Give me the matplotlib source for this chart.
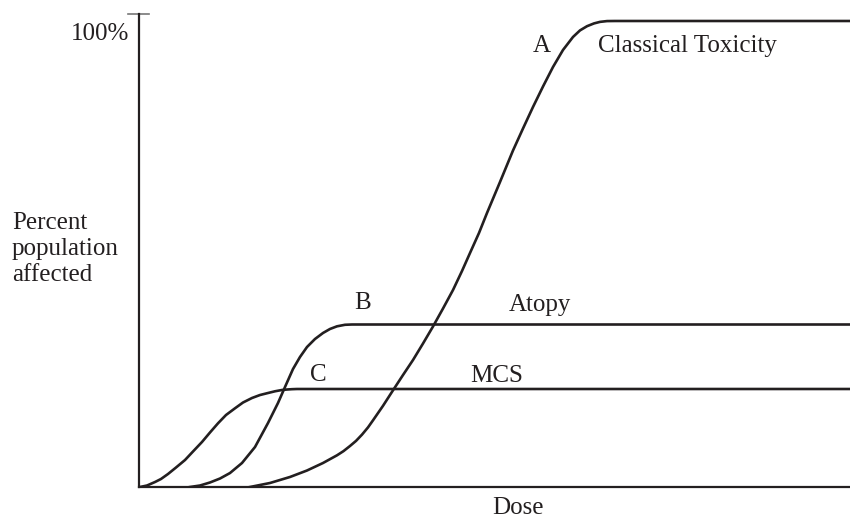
import matplotlib.pyplot as plt

plt.rcParams['font.family'] = ['Liberation Serif', 'DejaVu Serif']

# dose (arbitrary units) vs percent of population affected
dose_a = [111, 131, 151, 168, 184, 198, 204.5, 211, 217, 223,
          229, 234, 244, 254, 264, 274, 284, 294, 304, 314,
          323, 331, 340, 348, 361, 374, 384, 394, 404, 414,
          424, 434, 441, 448, 455, 461, 468, 476, 711]
pct_a = [0, 0.86, 2.15, 3.54, 5.15, 6.80, 7.70, 8.80, 9.89, 11.24,
         12.79, 14.31, 17.42, 20.75, 24.03, 27.25, 30.79, 34.44, 38.30, 42.27,
         46.35, 50.21, 54.51, 58.80, 65.45, 72.21, 76.93, 81.55, 85.94, 90.13,
         93.78, 96.57, 97.98, 98.88, 99.48, 99.81, 99.98, 100, 100]

dose_b = [51, 61, 71, 81, 91, 103, 116, 129, 139, 146, 154, 161, 168, 176, 184,
          191, 198, 206, 213, 711]
pct_b = [0, 0.32, 0.97, 1.82, 3.00, 5.15, 8.58, 13.73, 18.03, 21.46, 25.32,
         27.90, 30.04, 31.76, 33.05, 33.91, 34.48, 34.81, 34.87, 34.87]

dose_c = [1, 8, 16, 22, 29, 37, 46, 54, 63, 71, 79, 87, 96, 104, 113, 121, 129,
          136, 143, 148, 153, 158, 711]
pct_c = [0, 0.32, 1.07, 1.72, 2.79, 4.18, 5.79, 7.62, 9.66, 11.70, 13.67, 15.45,
         16.89, 18.13, 19.10, 19.74, 20.17, 20.54, 20.82, 20.92, 20.99, 21.03,
         21.03]

curve_labels = ['A', 'B', 'C']
curve_names = ['Classical Toxicity', 'Atopy', 'MCS']

ink = '#231f20'
W, H = 850, 518

fig = plt.figure(figsize=(8.5, 5.18), dpi=100)
ax = fig.add_axes([139 / W, 1 - 487 / H, 1 - 139 / W, (487 - 14) / H])

for d, p in [(dose_a, pct_a), (dose_b, pct_b), (dose_c, pct_c)]:
    ax.plot(d, p, color=ink, lw=1.9, solid_joinstyle='round')

ax.set_xlim(0, 711)
ax.set_ylim(0, 101.5)
for s in ['top', 'right']:
    ax.spines[s].set_visible(False)
for s in ['left', 'bottom']:
    ax.spines[s].set_linewidth(1.6)
    ax.spines[s].set_color(ink)
ax.set_xticks([])
ax.set_yticks([])

# small cap at the top of the y axis
ax.plot([-11, 10], [101.5, 101.5], color='#777777', lw=1.2, clip_on=False)


def px_text(x, y, s, **kw):
    fig.text(x / W, 1 - y / H, s, color=ink, fontsize=18, **kw)


px_text(129, 34, '100%', ha='right', va='center')
px_text(12, 249, 'Percent\npopulation\naffected', ha='left', va='center',
        linespacing=1.22)
px_text(518, 508, 'Dose', ha='center', va='center')

px_text(542, 46, curve_labels[0], ha='center', va='center')
px_text(598, 46, curve_names[0], ha='left', va='center')
px_text(363, 303, curve_labels[1], ha='center', va='center')
px_text(540, 305, curve_names[1], ha='center', va='center')
px_text(318, 375, curve_labels[2], ha='center', va='center')
px_text(497, 376, curve_names[2], ha='center', va='center')

fig.savefig('out.png', dpi=100)
